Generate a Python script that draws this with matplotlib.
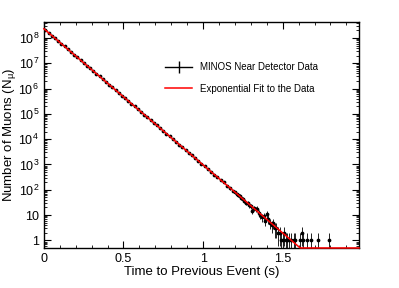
import numpy as np
import matplotlib
matplotlib.use("Agg")
import matplotlib.pyplot as plt
from matplotlib.lines import Line2D
from matplotlib.ticker import LogLocator, FixedLocator, MultipleLocator, FuncFormatter, NullFormatter

plt.rcParams['font.family'] = ['Liberation Sans', 'DejaVu Sans']
plt.rcParams['mathtext.default'] = 'regular'

# main part of the spectrum (every 0.02 s)
t_main = [0.01, 0.03, 0.05, 0.07, 0.09, 0.11, 0.13, 0.15, 0.17, 0.19,
          0.21, 0.23, 0.25, 0.27, 0.29, 0.31, 0.33, 0.35, 0.37, 0.39,
          0.41, 0.43, 0.45, 0.47, 0.49, 0.51, 0.53, 0.55, 0.57, 0.59,
          0.61, 0.63, 0.65, 0.67, 0.69, 0.71, 0.73, 0.75, 0.77, 0.79,
          0.81, 0.83, 0.85, 0.87, 0.89, 0.91, 0.93, 0.95, 0.97, 0.99,
          1.01, 1.03, 1.05, 1.07, 1.09, 1.11, 1.13, 1.15, 1.17, 1.19]
n_main = [2.02e8, 1.58e8, 1.23e8, 9.6e7, 7.5e7, 5.9e7, 4.6e7, 3.6e7, 2.8e7, 2.2e7,
          1.70e7, 1.33e7, 1.04e7, 8.1e6, 6.3e6, 4.9e6, 3.85e6, 3.0e6, 2.34e6, 1.83e6,
          1.43e6, 1.11e6, 8.7e5, 6.8e5, 5.3e5, 4.13e5, 3.23e5, 2.52e5, 1.96e5, 1.53e5,
          1.20e5, 9.35e4, 7.3e4, 5.7e4, 4.44e4, 3.47e4, 2.71e4, 2.11e4, 1.65e4, 1.29e4,
          1.00e4, 7.85e3, 6.12e3, 4.78e3, 3.73e3, 2.91e3, 2.27e3, 1.77e3, 1.38e3, 1.08e3,
          850, 655, 520, 395, 318, 240, 195, 145, 112, 88]

# tail of the spectrum (every 0.01 s, empty bins left out)
t_tail = [1.20, 1.21, 1.22, 1.23, 1.24, 1.25, 1.26, 1.27, 1.28, 1.29,
          1.30, 1.31, 1.32, 1.33, 1.34, 1.35, 1.36, 1.37, 1.38, 1.39,
          1.40, 1.41, 1.42, 1.43, 1.44, 1.45, 1.46, 1.47, 1.48, 1.49,
          1.50, 1.51, 1.52, 1.53, 1.54, 1.55, 1.57, 1.58, 1.61, 1.62,
          1.63, 1.65, 1.68, 1.72, 1.79]
n_tail = [78, 66, 60, 58, 47, 45, 36, 30, 31, 24,
          22, 15, 19, 17, 18, 12, 10, 8, 9, 6,
          11, 7, 5, 4, 5, 3, 3, 2, 2, 1,
          1, 2, 1, 1, 1, 1, 1, 1, 1, 2,
          1, 1, 1, 1, 1]

y_ticks = [1, 10, 1e2, 1e3, 1e4, 1e5, 1e6, 1e7, 1e8]
y_ticklabels = ['1', '10', '$10^{2}$', '$10^{3}$', '$10^{4}$', '$10^{5}$',
                '$10^{6}$', '$10^{7}$', '$10^{8}$']
x_ticks = [0, 0.5, 1.0, 1.5]
x_ticklabels = ['0', '0.5', '1', '1.5']

# exponential fit parameters
fit_norm = 2.3e8
fit_decades_per_s = 5.38

y_lo, y_hi = 0.5, 4.3e8
x_lo, x_hi = 0.0, 1.98

t = np.array(t_main + t_tail)
n = np.array(n_main + n_tail)
err = np.sqrt(n)

fig = plt.figure(figsize=(3.99, 2.88), dpi=100)
ax = fig.add_axes([0.110, 0.139, 0.790, 0.785])

ax.errorbar(t, n, yerr=err, fmt='o', color='k', ecolor='#222222', ms=1.7,
            elinewidth=0.7, capsize=0, zorder=2)

tf = np.linspace(x_lo, x_hi, 400)
fit = fit_norm * 10 ** (-fit_decades_per_s * tf)
ax.plot(tf, np.maximum(fit, y_lo), color='red', lw=1.1, zorder=4, clip_on=False)

ax.set_yscale('log')
ax.set_xlim(x_lo, x_hi)
ax.set_ylim(y_lo, y_hi)

ax.set_xticks(x_ticks)
ax.set_xticklabels(x_ticklabels)
ax.xaxis.set_minor_locator(MultipleLocator(0.1))
ax.set_yticks(y_ticks)
ax.set_yticklabels(y_ticklabels)
minor_y = [m * 10 ** e for e in range(-1, 9) for m in range(2, 10)
           if y_lo < m * 10 ** e < y_hi]
ax.yaxis.set_minor_locator(FixedLocator(minor_y))
ax.yaxis.set_minor_formatter(NullFormatter())

ax.tick_params(which='both', direction='in', top=True, right=True, labelsize=9)
ax.tick_params(which='major', length=5, width=0.8)
ax.tick_params(which='minor', length=2.5, width=0.6)
for s in ax.spines.values():
    s.set_linewidth(1.0)

ax.set_xlabel('Time to Previous Event (s)', fontsize=9.5, labelpad=1)
ax.set_ylabel('Number of Muons (N$_{\\mu}$)', fontsize=9.5, labelpad=0)

h_data = Line2D([], [], color='k', marker='|', markersize=9, lw=1.0, mew=1.0)
h_fit = Line2D([], [], color='red', lw=1.1)
fig.legend([h_data, h_fit], ['MINOS Near Detector Data', 'Exponential Fit to the Data'],
           loc='center left', bbox_to_anchor=(0.4135, 0.729), bbox_transform=fig.transFigure,
           frameon=False, fontsize=7, handlelength=2.8, handletextpad=0.8,
           labelspacing=1.2, borderpad=0, borderaxespad=0)

fig.savefig('out.png', dpi=100)
